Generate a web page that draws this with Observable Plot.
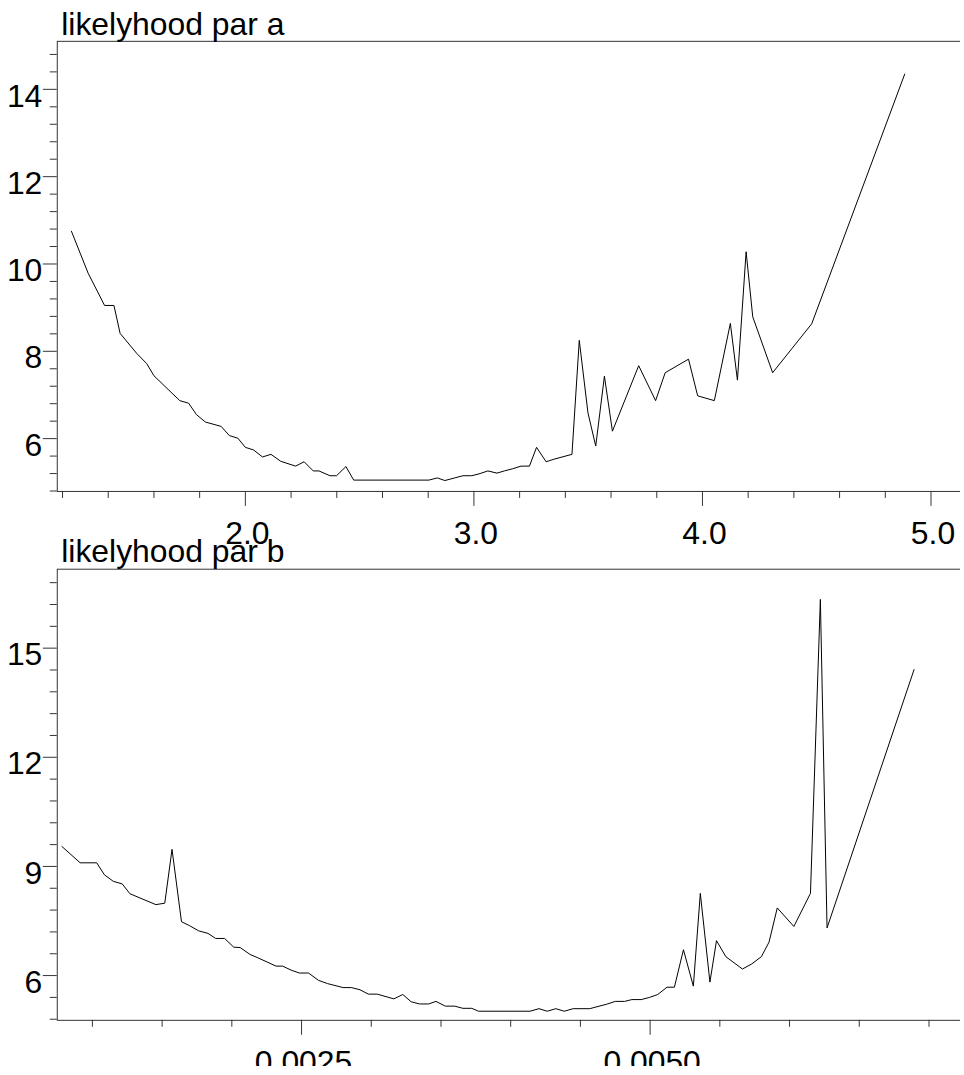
<!DOCTYPE html>
<html><head><meta charset="utf-8">
<script src="https://cdn.jsdelivr.net/npm/d3@7"></script>
<script src="https://cdn.jsdelivr.net/npm/@observablehq/plot@0.6"></script>
<style>
body{margin:0;background:#fff;}
#wrap{position:relative;width:960px;height:1066px;overflow:hidden;background:#fff;font-family:"Liberation Sans",Arial,sans-serif;}
#wrap svg{position:absolute;left:0;}
</style></head><body><div id="wrap"></div>
<script>
// ---- Panel a ----
const titleA = "likelyhood par a";
const aX = [1.239,1.312,1.384,1.425,1.452,1.525,1.568,1.600,1.713,1.752,1.786,1.825,1.894,1.930,1.967,2.000,2.036,2.075,2.112,2.155,2.220,2.257,2.297,2.322,2.370,2.399,2.440,2.474,2.803,2.840,2.873,2.916,2.952,2.991,3.027,3.061,3.101,3.133,3.170,3.206,3.243,3.274,3.316,3.351,3.429,3.461,3.499,3.533,3.571,3.606,3.721,3.795,3.837,3.939,3.979,4.052,4.122,4.153,4.191,4.220,4.307,4.478,4.885];
const aY = [10.75,9.79,9.05,9.05,8.41,7.95,7.72,7.44,6.87,6.81,6.55,6.38,6.28,6.07,6.01,5.80,5.74,5.58,5.64,5.48,5.37,5.47,5.26,5.26,5.15,5.15,5.36,5.05,5.05,5.10,5.04,5.10,5.15,5.15,5.20,5.26,5.21,5.26,5.31,5.37,5.37,5.80,5.47,5.53,5.64,8.25,6.59,5.83,7.43,6.17,7.67,6.87,7.51,7.82,6.98,6.87,8.64,7.34,10.28,8.79,7.51,8.63,14.35];
const aXMajor = [2, 3, 4, 5];
const aXMinor = [1.2,1.4,1.6,1.8,2.2,2.4,2.6,2.8,3.2,3.4,3.6,3.8,4.2,4.4,4.6,4.8];
const aYMajor = [6, 8, 10, 12, 14];
const aYMinor = [4.8,5.2,5.6,6.4,6.8,7.2,7.6,8.4,8.8,9.2,9.6,10.4,10.8,11.2,11.6,12.4,12.8,13.2,13.6,14.4,14.8];

// ---- Panel b ----
const titleB = "likelyhood par b";
const bX = [0.000781,0.000912,0.001031,0.001086,0.00115,0.001214,0.001269,0.001455,0.001519,0.001571,0.001639,0.001698,0.001762,0.001829,0.001884,0.001948,0.002014,0.00206,0.002131,0.002186,0.002317,0.002364,0.002431,0.002484,0.00255,0.002621,0.002686,0.002798,0.002857,0.002919,0.002979,0.003043,0.003162,0.003226,0.003286,0.003346,0.003412,0.003464,0.003531,0.003598,0.003657,0.003721,0.003769,0.004139,0.004203,0.004262,0.004324,0.004384,0.004448,0.004567,0.004626,0.004686,0.00475,0.004817,0.004869,0.004936,0.004996,0.005055,0.005121,0.005174,0.005239,0.00531,0.00536,0.005429,0.005476,0.005543,0.005662,0.005729,0.005798,0.005853,0.005912,0.006031,0.00615,0.006221,0.006269,0.006893];
const bY = [9.55,9.10,9.10,8.77,8.59,8.52,8.25,7.95,7.99,9.47,7.48,7.37,7.23,7.16,7.02,7.02,6.78,6.77,6.58,6.49,6.26,6.26,6.14,6.07,6.07,5.87,5.78,5.67,5.67,5.61,5.49,5.49,5.36,5.48,5.28,5.22,5.22,5.29,5.16,5.16,5.10,5.10,5.02,5.02,5.09,5.02,5.09,5.02,5.09,5.09,5.15,5.21,5.29,5.29,5.34,5.34,5.40,5.48,5.68,5.68,6.71,5.71,8.26,5.82,6.96,6.52,6.18,6.32,6.52,6.92,7.86,7.35,8.26,16.34,7.31,14.41];
const bXMajor = [0.0025, 0.005];
const bXMinor = [0.001,0.0015,0.002,0.003,0.0035,0.004,0.0045,0.0055,0.006,0.0065,0.007];
const bYMajor = [6, 9, 12, 15];
const bYMinor = [4.8,5.4,6.6,7.2,7.8,8.4,9.6,10.2,10.8,11.4,12.6,13.2,13.8,14.4,15.6,16.2,16.8];

const FONT = "'Liberation Sans', Arial, Helvetica, sans-serif";
const FS = 32;

function panel(o) {
  const data = o.xs.map((x, i) => ({x, y: o.ys[i]}));
  const svg = Plot.plot({
    width: 964,
    height: o.height,
    marginTop: o.mTop,
    marginBottom: o.mBottom,
    marginLeft: 57,
    marginRight: 0,
    style: {background: "transparent", overflow: "visible", fontFamily: FONT, fontSize: FS + "px", color: "#000"},
    x: {domain: o.xDomain},
    y: {domain: o.yDomain},
    marks: [
      Plot.frame({stroke: "#333"}),
      Plot.axisY(o.yMinor, {tickSize: 7, tickFormat: () => "", label: null, stroke: "#333"}),
      Plot.axisY(o.yMajor, {tickSize: 14, tickFormat: () => "", label: null, stroke: "#333"}),
      Plot.axisY(o.yMajor, {tickSize: 0, tickPadding: 15, dy: 7, fontSize: FS, fill: "#000", label: null}),
      Plot.axisX(o.xMinor, {tickSize: 7, tickFormat: () => "", label: null, stroke: "#333"}),
      Plot.axisX(o.xMajor, {tickSize: 15, tickFormat: () => "", label: null, stroke: "#333"}),
      Plot.axisX(o.xMajor, {tickSize: 0, tickPadding: 30, dx: 2, fontSize: FS, fill: "#000", tickFormat: o.xFmt, label: null}),
      Plot.line(data, {x: "x", y: "y", stroke: "#000", strokeWidth: 1}),
      Plot.text([o.title], {text: d => d, frameAnchor: "top-left", textAnchor: "start", lineAnchor: "middle", dx: 4, dy: -17, fontSize: FS, fill: "#000"})
    ]
  });
  svg.style.top = o.top + "px";
  document.getElementById("wrap").appendChild(svg);
}

panel({xs: aX, ys: aY, title: titleA, xDomain: [1.177, 5.129], yDomain: [4.79, 15.1],
  xMajor: aXMajor, xMinor: aXMinor, yMajor: aYMajor, yMinor: aYMinor, xFmt: d3.format(".1f"),
  top: 0, height: 560, mTop: 41, mBottom: 67});

panel({xs: bX, ys: bY, title: titleB, xDomain: [0.000748, 0.007226], yDomain: [4.77, 17.17],
  xMajor: bXMajor, xMinor: bXMinor, yMajor: bYMajor, yMinor: bYMinor, xFmt: d3.format(".4f"),
  top: 500, height: 589, mTop: 69, mBottom: 67});
</script>
</body></html>
